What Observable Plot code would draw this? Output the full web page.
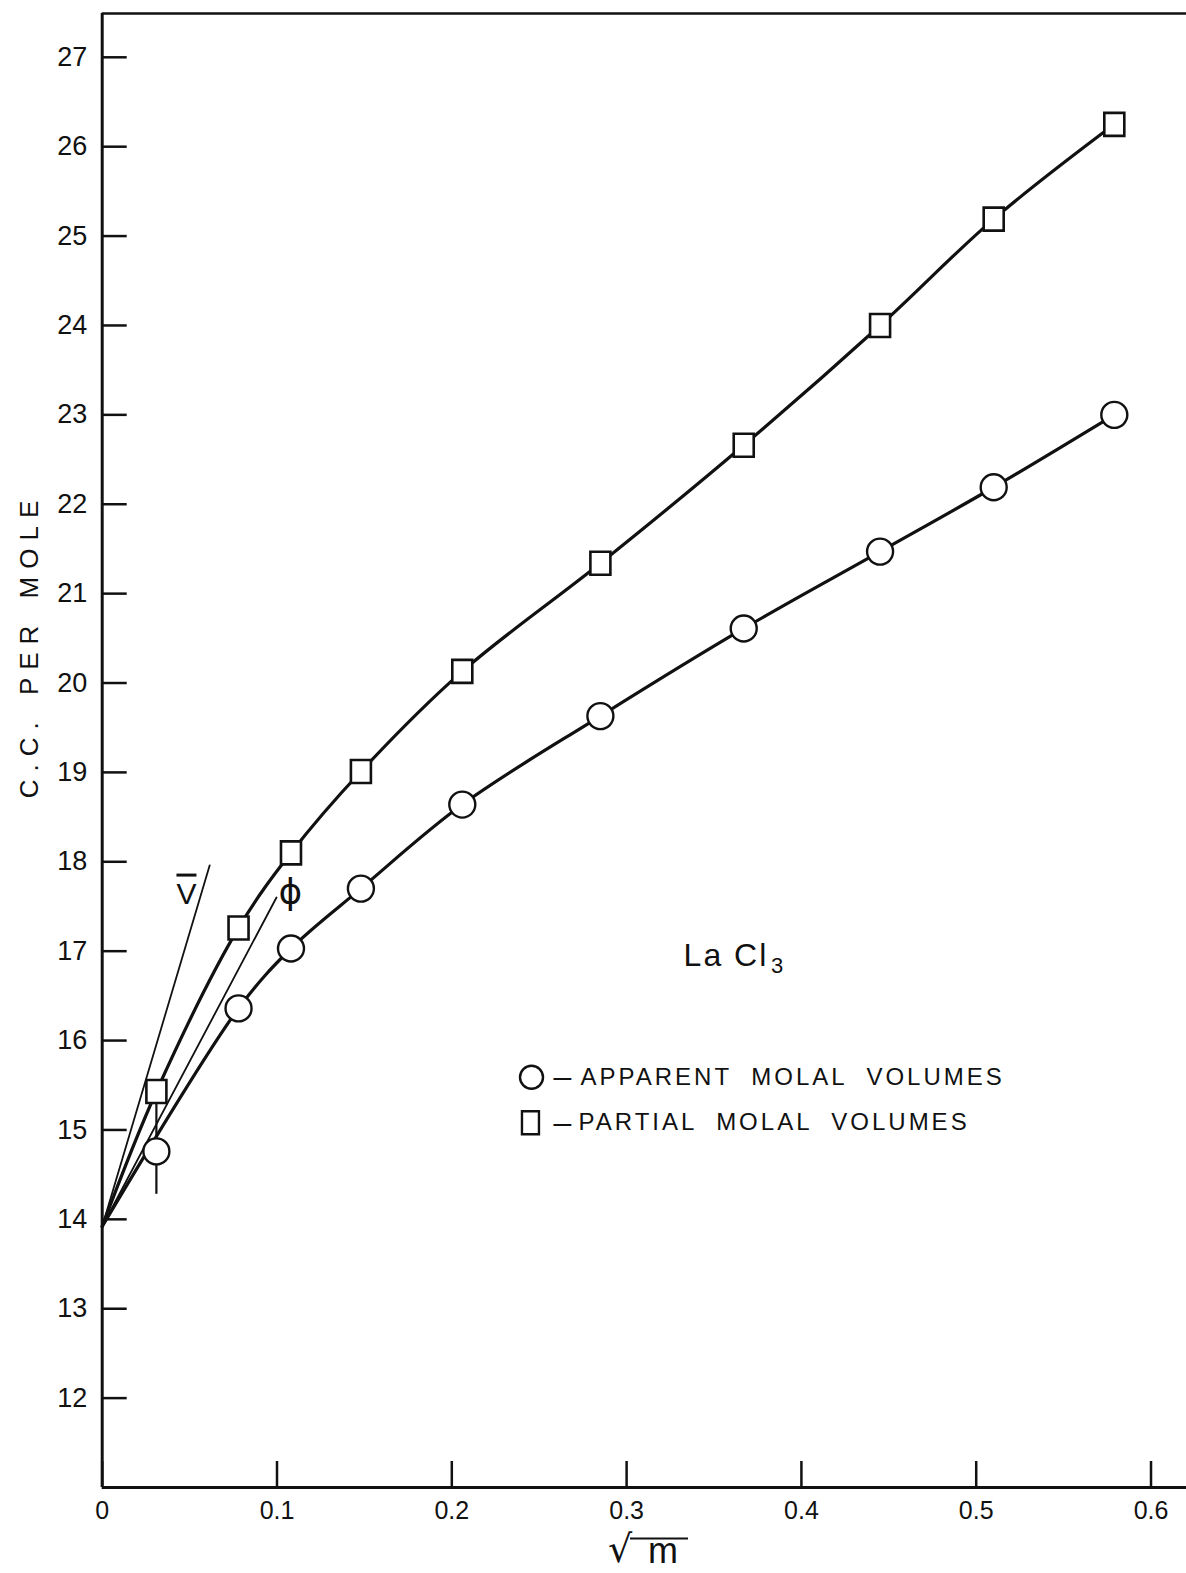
<!DOCTYPE html>
<html>
<head>
<meta charset="utf-8">
<script src="https://cdn.jsdelivr.net/npm/d3@7"></script>
<script src="https://cdn.jsdelivr.net/npm/@observablehq/plot@0.6"></script>
<style>
  body { margin: 0; background: #fff; }
  svg { display: block; }
</style>
</head>
<body>
<div id="chart"></div>
<script>
// Square root of molality for each measured solution
const sqrtM = [0.031, 0.078, 0.108, 0.148, 0.206, 0.285, 0.367, 0.445, 0.510, 0.579];
// Apparent molal volumes, φ (c.c. per mole)
const apparent = [14.76, 16.36, 17.03, 17.70, 18.64, 19.63, 20.61, 21.47, 22.19, 23.00];
// Partial molal volumes, V̄ (c.c. per mole)
const partial = [15.43, 17.26, 18.10, 19.01, 20.13, 21.34, 22.66, 24.00, 25.19, 26.25];
// Common limit at infinite dilution
const intercept = 13.92;
// Uncertainty bar on the most dilute solution
const errorLow = 14.28;
// Limiting-law slopes drawn from the intercept
const vBarLimitX = [0, 0.0615];
const vBarLimitY = [intercept, 17.96];
const phiLimitX = [0, 0.0997];
const phiLimitY = [intercept, 17.60];

// Axis ticks
const xTicks = [0, 0.1, 0.2, 0.3, 0.4, 0.5, 0.6];
const yTicks = [12, 13, 14, 15, 16, 17, 18, 19, 20, 21, 22, 23, 24, 25, 26, 27];
const xDomain = [0, 0.6203];
const yDomain = [11, 27.49];

// Texts
const yLabel = "C.C. PER MOLE";
const saltName = "La Cl";
const saltSub = "3";
const legendApparent = "APPARENT MOLAL VOLUMES";
const legendPartial = "PARTIAL MOLAL VOLUMES";
const vBarName = "V";
const phiName = "\u03D5";

const W = 1186, H = 1573;
const mL = 101.7, mR = 0, mT = 13, mB = 86;
const plotW = W - mL - mR, plotH = H - mT - mB;

const points = sqrtM.map((x, i) => ({x, apparent: apparent[i], partial: partial[i]}));
const partialCurve = [{x: 0, y: intercept}, ...points.map(d => ({x: d.x, y: d.partial}))];
// The apparent-volume curve passes over the first (uncertain) point
const apparentCurve = [{x: 0, y: intercept}, ...points.slice(1).map(d => ({x: d.x, y: d.apparent}))];
const vBarLine = vBarLimitX.map((x, i) => ({x, y: vBarLimitY[i]}));
const phiLine = phiLimitX.map((x, i) => ({x, y: phiLimitY[i]}));

// Upright rectangle marker (a little taller than wide)
const box = (w, h) => ({draw(ctx) { ctx.rect(-w / 2, -h / 2, w, h); }});

const ink = "#111";
const fmt = d => d === 0 ? "0" : d.toFixed(1);

const chart = Plot.plot({
  width: W,
  height: H,
  marginLeft: mL,
  marginRight: mR,
  marginTop: mT,
  marginBottom: mB,
  style: {fontFamily: "'Liberation Sans', Arial, sans-serif", color: ink, background: "#fff"},
  x: {domain: xDomain},
  y: {domain: yDomain},
  marks: [
    // frame: left and bottom axes, top border
    Plot.ruleX([xDomain[0]], {stroke: ink, strokeWidth: 3}),
    Plot.ruleY([yDomain[0]], {stroke: ink, strokeWidth: 3}),
    Plot.ruleY([yDomain[1]], {stroke: ink, strokeWidth: 2.5}),
    // inward ticks
    Plot.tickX(xTicks, {x: d => d, insetTop: plotH - 26, stroke: ink, strokeWidth: 2.5}),
    Plot.tickY(yTicks, {y: d => d, insetRight: plotW - 25, stroke: ink, strokeWidth: 2.5}),
    Plot.axisX(xTicks, {tickSize: 0, tickPadding: 14, fontSize: 25, tickFormat: fmt, label: null}),
    Plot.axisY(yTicks, {tickSize: 0, tickPadding: 15, fontSize: 27, tickFormat: d => String(d), label: null}),
    // y axis title
    Plot.text([yLabel], {frameAnchor: "left", textAnchor: "middle", rotate: -90, dx: -73, dy: -105, fontSize: 26, fill: ink}),
    // limiting slopes
    Plot.line(vBarLine, {x: "x", y: "y", stroke: ink, strokeWidth: 1.8}),
    Plot.line(phiLine, {x: "x", y: "y", stroke: ink, strokeWidth: 1.8}),
    Plot.text([vBarName], {x: 0.0482, y: 17.64, fontSize: 30, fill: ink}),
    Plot.text([phiName], {x: 0.1077, y: 17.66, fontSize: 36, fill: ink, fontFamily: "DejaVu Sans"}),
    // error bar on the most dilute point
    Plot.ruleX([points[0]], {x: "x", y1: errorLow, y2: "partial", stroke: ink, strokeWidth: 2.2}),
    // smooth curves
    Plot.line(partialCurve, {x: "x", y: "y", curve: "catmull-rom", stroke: ink, strokeWidth: 3.2}),
    Plot.line(apparentCurve, {x: "x", y: "y", curve: "catmull-rom", stroke: ink, strokeWidth: 3.2}),
    // measured points
    Plot.dot(points, {x: "x", y: "apparent", r: 13, symbol: "circle", fill: "#fff", stroke: ink, strokeWidth: 2.4}),
    Plot.dot(points, {x: "x", y: "partial", r: 11.5, symbol: box(20, 23), fill: "#fff", stroke: ink, strokeWidth: 2.6}),
    // salt name
    Plot.text([saltName], {x: 0.3326, y: 16.95, textAnchor: "start", fontSize: 32, fill: ink}),
    Plot.text([saltSub], {x: 0.3826, y: 16.95, dy: 10, textAnchor: "start", fontSize: 22, fill: ink}),
    // legend
    Plot.dot([0], {x: 0.2456, y: 15.59, r: 11.5, symbol: "circle", fill: "#fff", stroke: ink, strokeWidth: 2.4}),
    Plot.dot([0], {x: 0.2450, y: 15.08, r: 11.5, symbol: box(17, 23), fill: "#fff", stroke: ink, strokeWidth: 2.4}),
    Plot.text(["\u2013", "\u2013"], {x: 0.2582, y: (d, i) => [15.59, 15.08][i], textAnchor: "start", fontSize: 32, fill: ink}),
    Plot.text([legendApparent], {x: 0.2736, y: 15.59, textAnchor: "start", fontSize: 24, fill: ink}),
    Plot.text([legendPartial], {x: 0.2725, y: 15.08, textAnchor: "start", fontSize: 24, fill: ink})
  ]
});

const svg = d3.select(chart);
// lettering spacing and the bar over V
svg.selectAll("text").each(function () {
  const t = this.textContent;
  const s = d3.select(this);
  if (t === yLabel) s.attr("letter-spacing", 8).attr("word-spacing", 4);
  else if (t === legendApparent || t === legendPartial) s.attr("letter-spacing", 3).attr("word-spacing", 10);
  else if (t === saltName) s.attr("letter-spacing", 2);
  else if (t === vBarName) s.style("text-decoration", "overline");
});

// x axis title: square root of m
const lbl = svg.append("g").attr("fill", ink).attr("stroke", "none").attr("text-anchor", "start");
lbl.append("text").attr("x", 608).attr("y", 1562).attr("font-size", 38).attr("font-family", "DejaVu Sans").text("\u221A");
lbl.append("text").attr("x", 648).attr("y", 1563).attr("font-size", 36).text("m");
lbl.append("line").attr("x1", 630).attr("x2", 688).attr("y1", 1538.5).attr("y2", 1538.5).attr("stroke", ink).attr("stroke-width", 2);

document.getElementById("chart").appendChild(chart);
</script>
</body>
</html>
